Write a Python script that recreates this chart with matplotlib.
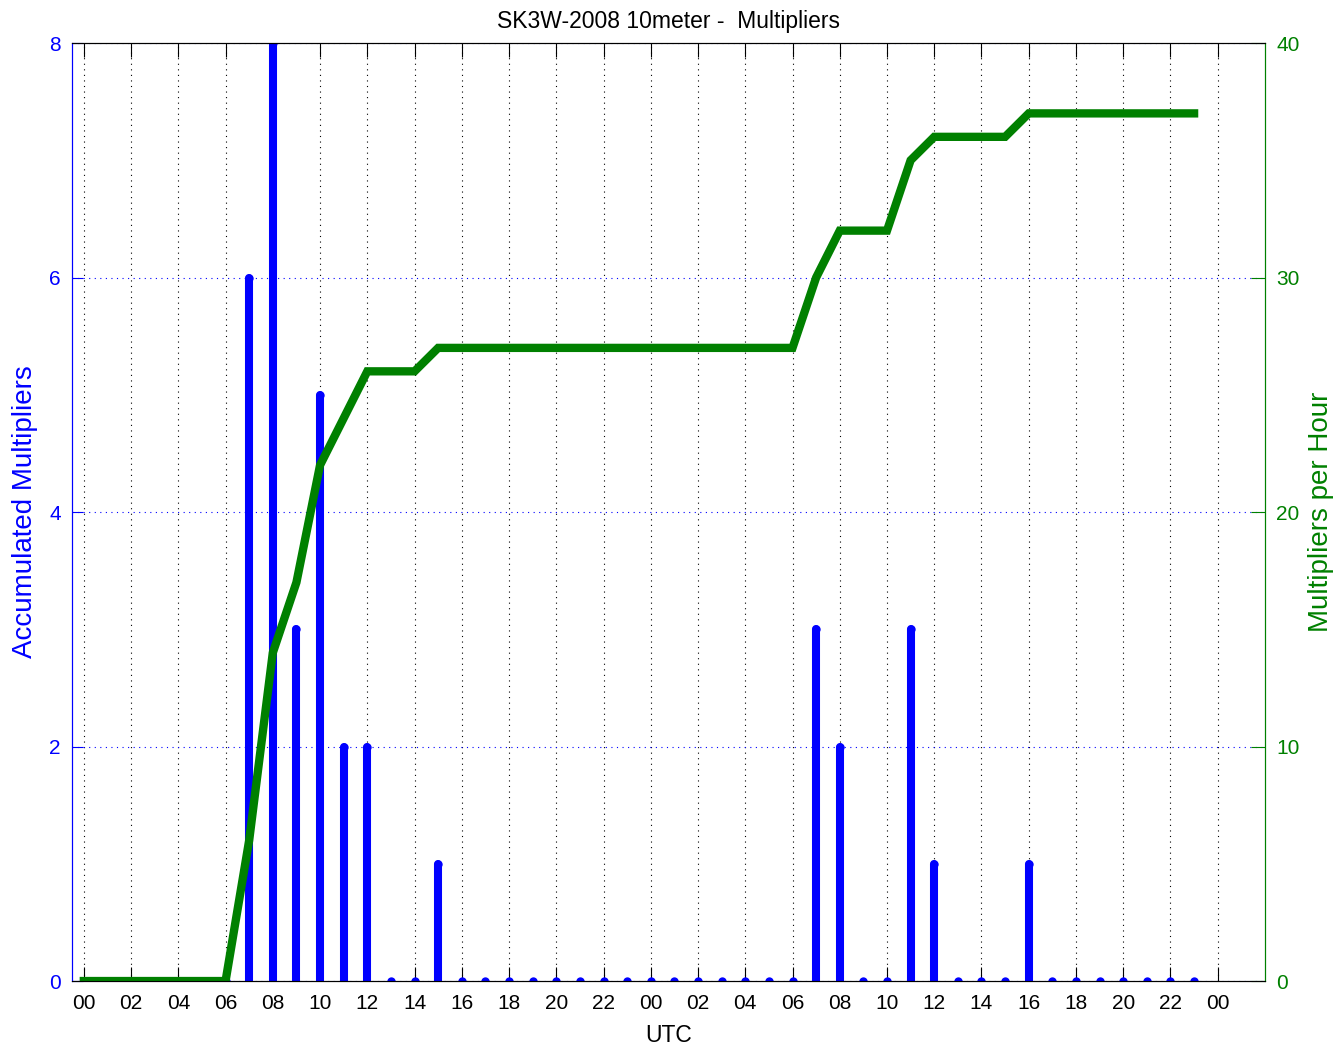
import numpy as np
import matplotlib
matplotlib.use("Agg")
import matplotlib.pyplot as plt

plt.rcParams['font.family'] = ['Liberation Sans', 'DejaVu Sans']

# ── Dati ──────────────────────────────────────────────────────
hours = np.arange(48)
mult_per_hour = [0, 0, 0, 0, 0, 0, 0, 6, 8, 3, 5, 2, 2, 0, 0, 1,
                 0, 0, 0, 0, 0, 0, 0, 0, 0, 0, 0, 0, 0, 0, 0, 3,
                 2, 0, 0, 3, 1, 0, 0, 0, 1, 0, 0, 0, 0, 0, 0, 0]
mult_accum = [0, 0, 0, 0, 0, 0, 0, 6, 14, 17, 22, 24, 26, 26, 26, 27,
              27, 27, 27, 27, 27, 27, 27, 27, 27, 27, 27, 27, 27, 27, 27, 30,
              32, 32, 32, 35, 36, 36, 36, 36, 37, 37, 37, 37, 37, 37, 37, 37]
tick_pos = np.arange(0, 49, 2)
tick_lab = [f"{h % 24:02d}" for h in tick_pos]

BLUE = '#0000ff'
GREEN = '#008000'

fig = plt.figure(figsize=(13.41, 10.47), dpi=100)
ax = fig.add_axes([0.0537, 0.0630, 0.8896, 0.8959])

# stem blu (per ora)
vl = ax.vlines(hours, 0, mult_per_hour, color=BLUE, linewidth=5.8)
vl.set_capstyle('round')
ax.plot(hours, mult_per_hour, 'o', color=BLUE, markersize=6, markeredgewidth=0)
ax.set_xlim(-0.5, 50)
ax.set_ylim(0, 8)
ax.set_yticks([0, 2, 4, 6, 8])
ax.set_xticks(tick_pos)
ax.set_xticklabels(tick_lab)
ax.tick_params(axis='x', direction='in', length=10, top=True, labelsize=15,
               pad=9, colors='black')
ax.tick_params(axis='y', direction='in', length=8, colors=BLUE, labelsize=15, pad=8)
ax.set_ylabel('Accumulated Multipliers', color=BLUE, fontsize=20, labelpad=8)
ax.set_xlabel('UTC', fontsize=16.5, labelpad=8)
ax.set_title('SK3W-2008 10meter -  Multipliers', fontsize=16.5, pad=11)

ax.grid(axis='x', color='black', linestyle=(0, (1, 4)), linewidth=0.8)
ax.grid(axis='y', color=BLUE, linestyle=(0, (1, 4)), linewidth=0.8)
ax.spines['left'].set_color(BLUE)
ax.spines['right'].set_color(GREEN)

# linea verde (accumulato)
ax2 = ax.twinx()
ax2.plot(hours, mult_accum, '-', color=GREEN, linewidth=6, solid_joinstyle='miter')
ax2.set_ylim(0, 40)
ax2.set_yticks([0, 10, 20, 30, 40])
ax2.tick_params(axis='y', direction='in', length=10, colors=GREEN, labelsize=15, pad=8)
ax2.set_ylabel('Multipliers per Hour', color=GREEN, fontsize=20, labelpad=6)
ax2.spines['right'].set_color(GREEN)
ax2.spines['left'].set_color(BLUE)

fig.savefig('out.png', dpi=100)
